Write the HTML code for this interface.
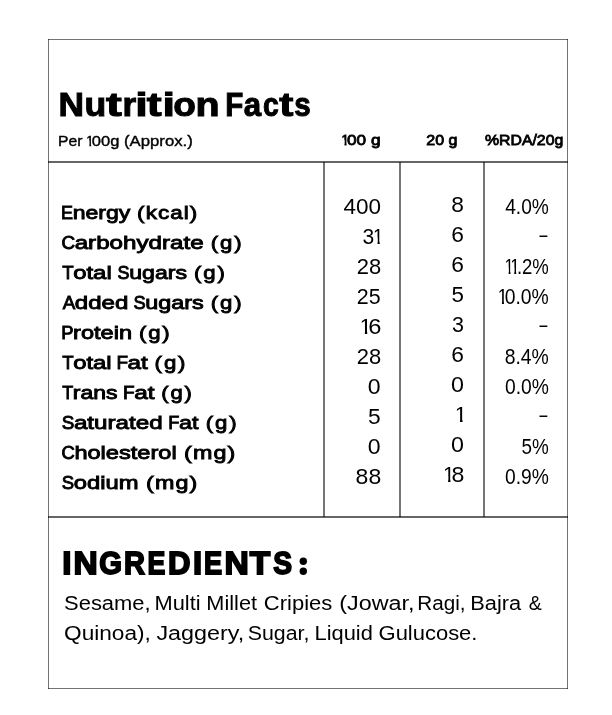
<!DOCTYPE html>
<html><head><meta charset="utf-8"><title>Nutrition Facts</title>
<style>
html,body{margin:0;padding:0;background:#fff;}
body{width:612px;height:715px;position:relative;overflow:hidden;font-family:"Liberation Sans",sans-serif;color:#000;}
.t{position:absolute;left:0;top:0;white-space:nowrap;line-height:1;transform-origin:0 0;display:block;}
#txt{position:absolute;left:0;top:0;width:612px;height:715px;will-change:transform;filter:blur(0.3px);}
.t i{font-style:normal;display:inline-block;clip-path:polygon(0.115em -0.3em,0.35em -0.3em,0.35em 1.4em,0.245em 1.4em,0.245em 0.5em,0.115em 0.5em);margin:0 -0.17em 0 -0.085em;}
svg{position:absolute;left:0;top:0;}
.t b{font-weight:inherit;display:inline-block;transform:scaleX(0.78);margin:0 -0.073em;}
</style></head><body>
<svg width="612" height="715" viewBox="0 0 612 715" fill="none">
<g stroke="#000" stroke-opacity="0.55">
<line x1="48" y1="39.5" x2="568" y2="39.5" stroke-width="1"/>
<line x1="48" y1="688.5" x2="568" y2="688.5" stroke-width="1"/>
<line x1="48.5" y1="39" x2="48.5" y2="689" stroke-width="1"/>
<line x1="567.5" y1="39" x2="567.5" y2="689" stroke-width="1"/>
<line x1="48" y1="162" x2="568" y2="162" stroke-width="1.8" stroke-opacity="0.6"/>
<line x1="48" y1="517" x2="568" y2="517" stroke-width="1.8" stroke-opacity="0.6"/>
<line x1="324" y1="162" x2="324" y2="517" stroke-width="1.8" stroke-opacity="0.6"/>
<line x1="400" y1="162" x2="400" y2="517" stroke-width="1.8" stroke-opacity="0.6"/>
<line x1="484" y1="162" x2="484" y2="517" stroke-width="1.8" stroke-opacity="0.6"/>
</g>
<circle cx="303.3" cy="561.3" r="3.7" fill="#000"/><circle cx="303.3" cy="571.2" r="3.7" fill="#000"/>
</svg>
<div id="txt">
<div><span><span class="t" style="font-size:33px;font-weight:bold;transform:translate(58.42px,87.50px) scaleX(1.0716);-webkit-text-stroke:1.0px #000;">N</span><span class="t" style="font-size:33px;font-weight:bold;transform:translate(84.39px,87.50px) scaleX(1.0765);-webkit-text-stroke:1.0px #000;">u</span><span class="t" style="font-size:33px;font-weight:bold;transform:translate(106.00px,87.50px) scaleX(1.4364);-webkit-text-stroke:1.0px #000;">t</span><span class="t" style="font-size:33px;font-weight:bold;transform:translate(122.44px,87.50px) scaleX(1.0636);-webkit-text-stroke:1.0px #000;">r</span><span class="t" style="font-size:33px;font-weight:bold;transform:translate(135.31px,87.50px) scaleX(1.3636);-webkit-text-stroke:1.0px #000;">i</span><span class="t" style="font-size:33px;font-weight:bold;transform:translate(146.80px,87.50px) scaleX(1.3545);-webkit-text-stroke:1.0px #000;">t</span><span class="t" style="font-size:33px;font-weight:bold;transform:translate(162.61px,87.50px) scaleX(1.3636);-webkit-text-stroke:1.0px #000;">i</span><span class="t" style="font-size:33px;font-weight:bold;transform:translate(173.36px,87.50px) scaleX(1.1243);-webkit-text-stroke:1.0px #000;">o</span><span class="t" style="font-size:33px;font-weight:bold;transform:translate(195.41px,87.50px) scaleX(1.1940);-webkit-text-stroke:1.0px #000;">n</span></span> <span><span class="t" style="font-size:33px;font-weight:bold;transform:translate(225.13px,87.50px) scaleX(0.8958);-webkit-text-stroke:1.0px #000;">F</span><span class="t" style="font-size:33px;font-weight:bold;transform:translate(243.73px,87.50px) scaleX(0.9459);-webkit-text-stroke:1.0px #000;">a</span><span class="t" style="font-size:33px;font-weight:bold;transform:translate(263.06px,87.50px) scaleX(0.8588);-webkit-text-stroke:1.0px #000;">c</span><span class="t" style="font-size:33px;font-weight:bold;transform:translate(279.20px,87.50px) scaleX(1.2818);-webkit-text-stroke:1.0px #000;">t</span><span class="t" style="font-size:33px;font-weight:bold;transform:translate(294.33px,87.50px) scaleX(0.8955);-webkit-text-stroke:1.0px #000;">s</span></span></div>
<div><span class="t" style="font-size:15.5px;font-weight:normal;transform:translate(57.99px,132.73px) scaleX(1.0130);-webkit-text-stroke:0.4px #000;">Per</span> <span class="t" style="font-size:15.5px;font-weight:normal;transform:translate(86.77px,132.73px) scaleX(1.0667);-webkit-text-stroke:0.4px #000;"><i>1</i>00g</span> <span class="t" style="font-size:15.5px;font-weight:normal;transform:translate(123.99px,132.73px) scaleX(1.0795);-webkit-text-stroke:0.4px #000;">(Approx.)</span></div>
<div><span class="t" style="font-size:15.5px;font-weight:normal;transform:translate(341.85px,132.28px) scaleX(1.1081);-webkit-text-stroke:0.85px #000;"><i>1</i>00 g</span> <span class="t" style="font-size:15.5px;font-weight:normal;transform:translate(426.34px,132.28px) scaleX(1.0325);-webkit-text-stroke:0.85px #000;">20 g</span> <span class="t" style="font-size:15.5px;font-weight:normal;transform:translate(484.94px,132.28px) scaleX(1.0218);-webkit-text-stroke:0.85px #000;">%RDA/20g</span></div>
<div><span class="t" style="font-size:19.04px;font-weight:normal;transform:translate(60.59px,202.72px) scaleX(1.2106);-webkit-text-stroke:0.9px #000;"><b>E</b>nergy</span> <span class="t" style="font-size:19.04px;font-weight:normal;transform:translate(137.12px,202.72px) scaleX(1.1778);-webkit-text-stroke:0.9px #000;letter-spacing:0.9px;">(kcal)</span> <span class="t" style="font-size:21.3px;font-weight:normal;transform:translate(343.47px,196.80px) scaleX(1.0569);">400</span> <span class="t" style="font-size:21.3px;font-weight:normal;transform:translate(451.33px,195.40px) scaleX(1.0700);">8</span> <span class="t" style="font-size:21.3px;font-weight:normal;transform:translate(505.15px,196.90px) scaleX(0.8995);">4.0%</span></div>
<div><span class="t" style="font-size:19.04px;font-weight:normal;transform:translate(60.73px,232.72px) scaleX(1.2692);-webkit-text-stroke:0.9px #000;"><b>C</b>arbohydrate</span> <span class="t" style="font-size:19.04px;font-weight:normal;transform:translate(210.83px,232.72px) scaleX(1.1640);-webkit-text-stroke:0.9px #000;letter-spacing:1.6px;">(g)</span> <span class="t" style="font-size:21.3px;font-weight:normal;transform:translate(362.41px,226.80px) scaleX(0.9879);">3<i>1</i></span> <span class="t" style="font-size:21.3px;font-weight:normal;transform:translate(451.33px,225.40px) scaleX(1.0700);">6</span> <span class="t" style="font-size:21.3px;font-weight:normal;transform:translate(539.40px,224.90px) scaleX(0.6638);">–</span></div>
<div><span class="t" style="font-size:19.04px;font-weight:normal;transform:translate(61.99px,262.72px) scaleX(1.2571);-webkit-text-stroke:0.9px #000;"><b>T</b>otal</span> <span class="t" style="font-size:19.04px;font-weight:normal;transform:translate(117.09px,262.72px) scaleX(1.2142);-webkit-text-stroke:0.9px #000;"><b>S</b>ugars</span> <span class="t" style="font-size:19.04px;font-weight:normal;transform:translate(194.03px,262.72px) scaleX(1.1640);-webkit-text-stroke:0.9px #000;letter-spacing:1.6px;">(g)</span> <span class="t" style="font-size:21.3px;font-weight:normal;transform:translate(356.77px,256.80px) scaleX(1.0299);">28</span> <span class="t" style="font-size:21.3px;font-weight:normal;transform:translate(451.33px,255.40px) scaleX(1.0700);">6</span> <span class="t" style="font-size:21.3px;font-weight:normal;transform:translate(505.65px,256.90px) scaleX(0.8708);"><i>1</i><i>1</i>.2%</span></div>
<div><span class="t" style="font-size:19.04px;font-weight:normal;transform:translate(62.20px,292.72px) scaleX(1.2641);-webkit-text-stroke:0.9px #000;"><b>A</b>dded</span> <span class="t" style="font-size:19.04px;font-weight:normal;transform:translate(133.08px,292.72px) scaleX(1.2283);-webkit-text-stroke:0.9px #000;"><b>S</b>ugars</span> <span class="t" style="font-size:19.04px;font-weight:normal;transform:translate(210.83px,292.72px) scaleX(1.1640);-webkit-text-stroke:0.9px #000;letter-spacing:1.6px;">(g)</span> <span class="t" style="font-size:21.3px;font-weight:normal;transform:translate(356.79px,286.80px) scaleX(1.0069);">25</span> <span class="t" style="font-size:21.3px;font-weight:normal;transform:translate(451.55px,285.40px) scaleX(1.0500);">5</span> <span class="t" style="font-size:21.3px;font-weight:normal;transform:translate(498.82px,286.90px) scaleX(0.9084);"><i>1</i>0.0%</span></div>
<div><span class="t" style="font-size:19.04px;font-weight:normal;transform:translate(60.75px,322.72px) scaleX(1.2378);-webkit-text-stroke:0.9px #000;"><b>P</b>rotein</span> <span class="t" style="font-size:19.04px;font-weight:normal;transform:translate(138.93px,322.72px) scaleX(1.1640);-webkit-text-stroke:0.9px #000;letter-spacing:1.6px;">(g)</span> <span class="t" style="font-size:21.3px;font-weight:normal;transform:translate(361.07px,316.80px) scaleX(1.1091);"><i>1</i>6</span> <span class="t" style="font-size:21.3px;font-weight:normal;transform:translate(451.99px,315.40px) scaleX(1.0100);">3</span> <span class="t" style="font-size:21.3px;font-weight:normal;transform:translate(539.40px,314.90px) scaleX(0.6638);">–</span></div>
<div><span class="t" style="font-size:19.04px;font-weight:normal;transform:translate(61.99px,352.72px) scaleX(1.2545);-webkit-text-stroke:0.9px #000;"><b>T</b>otal</span> <span class="t" style="font-size:19.04px;font-weight:normal;transform:translate(116.02px,352.72px) scaleX(1.2792);-webkit-text-stroke:0.9px #000;"><b>F</b>at</span> <span class="t" style="font-size:19.04px;font-weight:normal;transform:translate(154.62px,352.72px) scaleX(1.1680);-webkit-text-stroke:0.9px #000;letter-spacing:1.6px;">(g)</span> <span class="t" style="font-size:21.3px;font-weight:normal;transform:translate(356.77px,346.80px) scaleX(1.0299);">28</span> <span class="t" style="font-size:21.3px;font-weight:normal;transform:translate(451.33px,345.40px) scaleX(1.0700);">6</span> <span class="t" style="font-size:21.3px;font-weight:normal;transform:translate(504.69px,346.90px) scaleX(0.9091);">8.4%</span></div>
<div><span class="t" style="font-size:19.04px;font-weight:normal;transform:translate(62.00px,382.72px) scaleX(1.2088);-webkit-text-stroke:0.9px #000;"><b>T</b>rans</span> <span class="t" style="font-size:19.04px;font-weight:normal;transform:translate(122.72px,382.72px) scaleX(1.2833);-webkit-text-stroke:0.9px #000;"><b>F</b>at</span> <span class="t" style="font-size:19.04px;font-weight:normal;transform:translate(161.23px,382.72px) scaleX(1.1560);-webkit-text-stroke:0.9px #000;letter-spacing:1.6px;">(g)</span> <span class="t" style="font-size:21.3px;font-weight:normal;transform:translate(367.79px,376.80px) scaleX(1.0829);">0</span> <span class="t" style="font-size:21.3px;font-weight:normal;transform:translate(451.08px,375.40px) scaleX(1.0927);">0</span> <span class="t" style="font-size:21.3px;font-weight:normal;transform:translate(504.92px,376.90px) scaleX(0.9043);">0.0%</span></div>
<div><span class="t" style="font-size:19.04px;font-weight:normal;transform:translate(61.25px,412.72px) scaleX(1.2716);-webkit-text-stroke:0.9px #000;"><b>S</b>aturated</span> <span class="t" style="font-size:19.04px;font-weight:normal;transform:translate(167.97px,412.72px) scaleX(1.2292);-webkit-text-stroke:0.9px #000;"><b>F</b>at</span> <span class="t" style="font-size:19.04px;font-weight:normal;transform:translate(205.83px,412.72px) scaleX(1.1640);-webkit-text-stroke:0.9px #000;letter-spacing:1.6px;">(g)</span> <span class="t" style="font-size:21.3px;font-weight:normal;transform:translate(367.93px,406.80px) scaleX(1.0700);">5</span> <span class="t" style="font-size:21.3px;font-weight:normal;transform:translate(456.14px,405.40px) scaleX(1.1400);"><i>1</i></span> <span class="t" style="font-size:21.3px;font-weight:normal;transform:translate(539.40px,404.90px) scaleX(0.6638);">–</span></div>
<div><span class="t" style="font-size:19.04px;font-weight:normal;transform:translate(60.76px,442.72px) scaleX(1.2392);-webkit-text-stroke:0.9px #000;"><b>C</b>holesterol</span> <span class="t" style="font-size:19.04px;font-weight:normal;transform:translate(184.08px,442.72px) scaleX(1.2248);-webkit-text-stroke:0.9px #000;letter-spacing:0.9px;">(mg)</span> <span class="t" style="font-size:21.3px;font-weight:normal;transform:translate(367.79px,436.80px) scaleX(1.0829);">0</span> <span class="t" style="font-size:21.3px;font-weight:normal;transform:translate(451.08px,435.40px) scaleX(1.0927);">0</span> <span class="t" style="font-size:21.3px;font-weight:normal;transform:translate(521.51px,436.90px) scaleX(0.8862);">5%</span></div>
<div><span class="t" style="font-size:19.04px;font-weight:normal;transform:translate(61.26px,472.72px) scaleX(1.2498);-webkit-text-stroke:0.9px #000;"><b>S</b>odium</span> <span class="t" style="font-size:19.04px;font-weight:normal;transform:translate(146.08px,472.72px) scaleX(1.2248);-webkit-text-stroke:0.9px #000;letter-spacing:0.9px;">(mg)</span> <span class="t" style="font-size:21.3px;font-weight:normal;transform:translate(355.62px,466.80px) scaleX(1.0805);">88</span> <span class="t" style="font-size:21.3px;font-weight:normal;transform:translate(444.39px,465.40px) scaleX(1.0848);"><i>1</i>8</span> <span class="t" style="font-size:21.3px;font-weight:normal;transform:translate(504.92px,466.90px) scaleX(0.9043);">0.9%</span></div>
<div><span><span class="t" style="font-size:32.2px;font-weight:bold;transform:translate(62.21px,546.80px) scaleX(1.0308);-webkit-text-stroke:1.8px #000;">I</span><span class="t" style="font-size:32.2px;font-weight:bold;transform:translate(73.40px,546.80px) scaleX(1.0410);-webkit-text-stroke:1.8px #000;">N</span><span class="t" style="font-size:32.2px;font-weight:bold;transform:translate(99.25px,546.80px) scaleX(0.9064);-webkit-text-stroke:1.8px #000;">G</span><span class="t" style="font-size:32.2px;font-weight:bold;transform:translate(124.07px,546.80px) scaleX(0.9022);-webkit-text-stroke:1.8px #000;">R</span><span class="t" style="font-size:32.2px;font-weight:bold;transform:translate(147.56px,546.80px) scaleX(0.8304);-webkit-text-stroke:1.8px #000;">E</span><span class="t" style="font-size:32.2px;font-weight:bold;transform:translate(167.99px,546.80px) scaleX(0.9674);-webkit-text-stroke:1.8px #000;">D</span><span class="t" style="font-size:32.2px;font-weight:bold;transform:translate(192.93px,546.80px) scaleX(1.0154);-webkit-text-stroke:1.8px #000;">I</span><span class="t" style="font-size:32.2px;font-weight:bold;transform:translate(203.94px,546.80px) scaleX(0.8456);-webkit-text-stroke:1.8px #000;">E</span><span class="t" style="font-size:32.2px;font-weight:bold;transform:translate(224.49px,546.80px) scaleX(1.0458);-webkit-text-stroke:1.8px #000;">N</span><span class="t" style="font-size:32.2px;font-weight:bold;transform:translate(249.72px,546.80px) scaleX(1.0410);-webkit-text-stroke:1.8px #000;">T</span><span class="t" style="font-size:32.2px;font-weight:bold;transform:translate(273.30px,546.80px) scaleX(0.8762);-webkit-text-stroke:1.8px #000;">S</span></span></div>
<div><span class="t" style="font-size:19.5px;font-weight:normal;transform:translate(64.08px,593.70px) scaleX(1.1246);">Sesame,</span> <span class="t" style="font-size:19.5px;font-weight:normal;transform:translate(154.52px,593.70px) scaleX(1.1190);">Multi</span> <span class="t" style="font-size:19.5px;font-weight:normal;transform:translate(206.33px,593.70px) scaleX(1.1131);">Millet</span> <span class="t" style="font-size:19.5px;font-weight:normal;transform:translate(263.87px,593.70px) scaleX(1.1271);">Cripies</span> <span class="t" style="font-size:19.5px;font-weight:normal;transform:translate(339.20px,593.70px) scaleX(1.1983);">(Jowar,</span> <span class="t" style="font-size:19.5px;font-weight:normal;transform:translate(417.21px,593.70px) scaleX(1.0604);">Ragi,</span> <span class="t" style="font-size:19.5px;font-weight:normal;transform:translate(470.32px,593.70px) scaleX(1.1182);">Bajra</span> <span class="t" style="font-size:19.5px;font-weight:normal;transform:translate(528.75px,593.70px) scaleX(1.0000);">&amp;</span></div>
<div><span class="t" style="font-size:19.5px;font-weight:normal;transform:translate(64.04px,623.80px) scaleX(1.1611);">Quinoa),</span> <span class="t" style="font-size:19.5px;font-weight:normal;transform:translate(156.40px,623.80px) scaleX(1.1972);">Jaggery,</span> <span class="t" style="font-size:19.5px;font-weight:normal;transform:translate(247.71px,623.80px) scaleX(1.0935);">Sugar,</span> <span class="t" style="font-size:19.5px;font-weight:normal;transform:translate(314.52px,623.80px) scaleX(1.1208);">Liquid</span> <span class="t" style="font-size:19.5px;font-weight:normal;transform:translate(378.57px,623.80px) scaleX(1.1259);">Gulucose.</span></div>
</div>
</body></html>
